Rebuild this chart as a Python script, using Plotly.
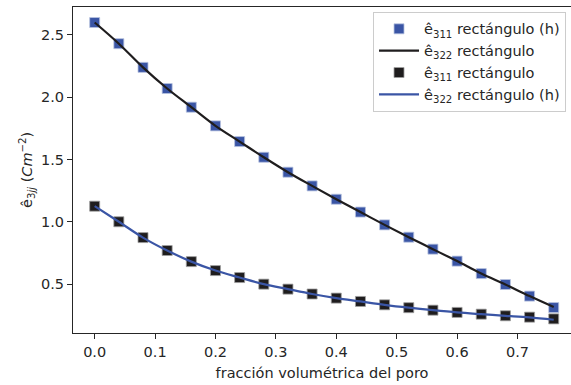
import plotly.graph_objects as go

x = [0.00, 0.04, 0.08, 0.12, 0.16, 0.20, 0.24, 0.28, 0.32, 0.36,
     0.40, 0.44, 0.48, 0.52, 0.56, 0.60, 0.64, 0.68, 0.72, 0.76]

e311_h = [2.60, 2.43, 2.24, 2.07, 1.92, 1.77, 1.644, 1.518, 1.398, 1.288,
          1.181, 1.078, 0.975, 0.876, 0.78, 0.684, 0.584, 0.496, 0.403, 0.311]
e322 = [2.60, 2.43, 2.24, 2.07, 1.92, 1.77, 1.644, 1.518, 1.398, 1.288,
        1.181, 1.078, 0.975, 0.876, 0.78, 0.684, 0.584, 0.496, 0.403, 0.315]
e311 = [1.125, 1.0, 0.873, 0.769, 0.68, 0.608, 0.552, 0.499, 0.459, 0.42,
        0.387, 0.36, 0.333, 0.31, 0.29, 0.272, 0.258, 0.245, 0.234, 0.22]
e322_h = [1.125, 1.0, 0.873, 0.769, 0.68, 0.608, 0.552, 0.499, 0.459, 0.42,
          0.387, 0.36, 0.333, 0.31, 0.29, 0.272, 0.258, 0.245, 0.232, 0.213]

names = ["ê<sub>311</sub> rectángulo (h)", "ê<sub>322</sub> rectángulo",
         "ê<sub>311</sub> rectángulo", "ê<sub>322</sub> rectángulo (h)"]
y_title = "ê<sub>3<i>jj</i></sub> (<i>Cm</i><sup>−2</sup>)"
x_title = "fracción volumétrica del poro"

BLUE = "#3a55a5"
BLACK = "#1f1d1e"
FONT = "DejaVu Sans"

fig = go.Figure()
fig.add_trace(go.Scatter(x=x, y=e311_h, mode="markers", name=names[0],
                         marker=dict(symbol="square", size=10, color=BLUE,
                                     line=dict(width=0.8, color="#b8c3e0"))))
fig.add_trace(go.Scatter(x=x, y=e322, mode="lines", name=names[1],
                         line=dict(color=BLACK, width=2.2, shape="spline")))
fig.add_trace(go.Scatter(x=x, y=e311, mode="markers", name=names[2],
                         marker=dict(symbol="square", size=10, color=BLACK,
                                     line=dict(width=0.8, color="#a0a0a0"))))
fig.add_trace(go.Scatter(x=x, y=e322_h, mode="lines", name=names[3],
                         line=dict(color=BLUE, width=2.2, shape="spline")))

axis_common = dict(showgrid=False, zeroline=False, showline=True, linecolor="#262626",
                   linewidth=1.2, ticks="outside", ticklen=5, tickwidth=1.2,
                   tickcolor="#262626", tickfont=dict(family=FONT, size=14.5, color="#262626"))

fig.update_xaxes(range=[-0.0359, 0.7886], tickvals=[0, 0.1, 0.2, 0.3, 0.4, 0.5, 0.6, 0.7],
                 tickformat=".1f", mirror=True,
                 title=dict(text=x_title,
                            font=dict(family=FONT, size=14.5, color="#262626"), standoff=9),
                 **axis_common)
fig.update_yaxes(range=[0.1067, 2.7247], tickvals=[0.5, 1.0, 1.5, 2.0, 2.5],
                 tickformat=".1f", **axis_common)

fig.add_annotation(text=y_title, textangle=-90, xref="paper", yref="paper",
                   x=-0.0924, y=0.5, xanchor="center", yanchor="middle", showarrow=False,
                   font=dict(family=FONT, size=14.5, color="#262626"))

fig.update_layout(
    width=571, height=385,
    margin=dict(l=73, r=0, t=7, b=52),
    plot_bgcolor="white", paper_bgcolor="white",
    font=dict(family=FONT, size=14.5, color="#262626"),
    legend=dict(x=0.99, y=0.985, xanchor="right", yanchor="top", itemwidth=40,
                bgcolor="rgba(255,255,255,0.8)", bordercolor="#cccccc", borderwidth=1,
                font=dict(family=FONT, size=14.5, color="#262626")),
)

fig.write_html("out.html")
